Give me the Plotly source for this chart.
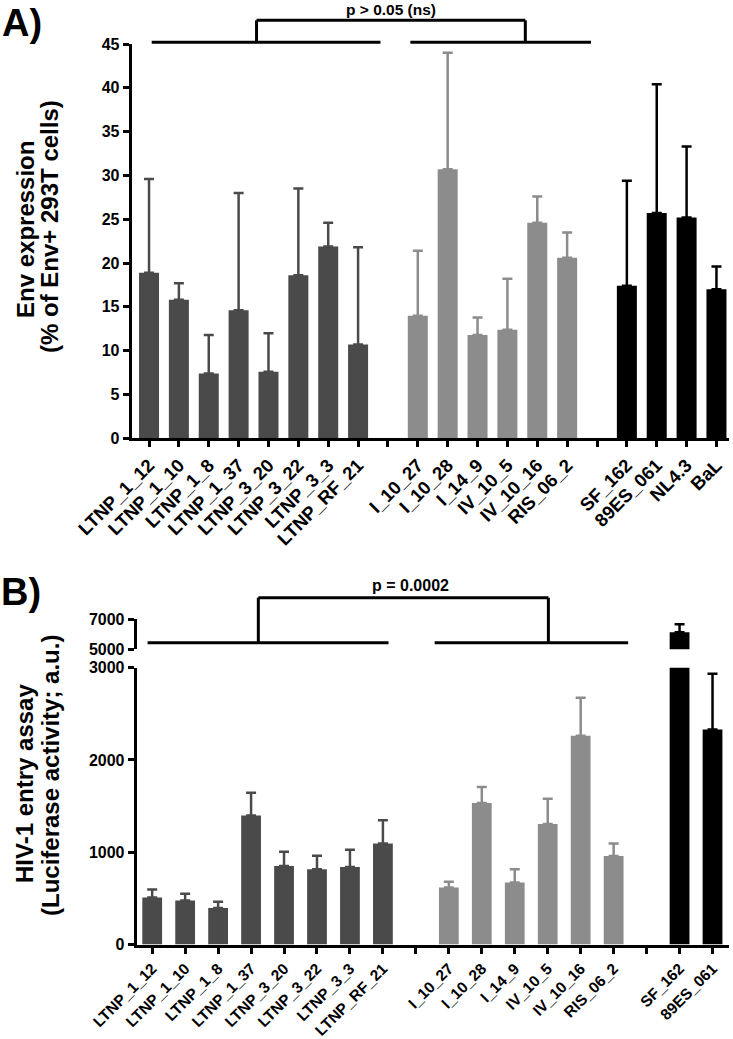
import plotly.graph_objects as go

W, H = 733, 1039

# ---------------- Panel A: Env expression ----------------
ltnp_a = ["LTNP_1_12", "LTNP_1_10", "LTNP_1_8", "LTNP_1_37", "LTNP_3_20", "LTNP_3_22", "LTNP_3_3", "LTNP_RF_21"]
ltnp_a_mean = [18.9, 15.8, 7.4, 14.6, 7.6, 18.6, 21.9, 10.7]
ltnp_a_upper = [29.6, 17.7, 11.8, 28.0, 12.0, 28.5, 24.6, 21.8]

lts_a = ["I_10_27", "I_10_28", "I_14_9", "IV_10_5", "IV_10_16", "RIS_06_2"]
lts_a_mean = [14.0, 30.7, 11.8, 12.4, 24.6, 20.6]
lts_a_upper = [21.4, 44.0, 13.8, 18.2, 27.6, 23.5]

ref_a = ["SF_162", "89ES_061", "NL4.3", "BaL"]
ref_a_mean = [17.4, 25.7, 25.2, 17.0]
ref_a_upper = [29.4, 40.4, 33.3, 19.6]

yticks_a = [0, 5, 10, 15, 20, 25, 30, 35, 40, 45]

# ---------------- Panel B: HIV-1 entry assay ----------------
ltnp_b = ["LTNP_1_12", "LTNP_1_10", "LTNP_1_8", "LTNP_1_37", "LTNP_3_20", "LTNP_3_22", "LTNP_3_3", "LTNP_RF_21"]
ltnp_b_mean = [510, 478, 395, 1397, 851, 815, 840, 1095]
ltnp_b_upper = [596, 549, 463, 1645, 1005, 962, 1027, 1346]

lts_b = ["I_10_27", "I_10_28", "I_14_9", "IV_10_5", "IV_10_16", "RIS_06_2"]
lts_b_mean = [618, 1533, 671, 1307, 2262, 959]
lts_b_upper = [679, 1706, 815, 1580, 2675, 1095]

ref_b = ["SF_162", "89ES_061"]
ref_b_mean = [6120, 2330]
ref_b_upper = [6650, 2934]

yticks_b_low = [0, 1000, 2000, 3000]
yticks_b_high = [5000, 7000]

DARK = "#4a4a4a"
LIGHT = "#8c8c8c"
BLACK = "#000000"
FONT = "Liberation Sans, Arial, sans-serif"

# category orders with blank gap slots
cats_a = ltnp_a + [" "] + lts_a + ["  "] + ref_a
cats_b = ltnp_b + [" "] + lts_b + ["  "] + ref_b

# layout geometry (paper fractions)
xa_dom = [131.7 / W, 729 / W]
ya_dom = [1 - 438.3 / H, 1 - 44 / H]
xa_rng = [-0.58, 19.42]
ya_rng = [0, 45]

xb_dom = [136.7 / W, 729 / W]
yb_low_dom = [1 - 944.5 / H, 1 - 667.7 / H]
yb_high_dom = [1 - 649.3 / H, 1 - 619 / H]
xb_rng = [-0.47, 17.5]
yb_low_rng = [0, 3000]
yb_high_rng = [5000, 7000]


def to_paper(v, dom, rng):
    return dom[0] + (v - rng[0]) / (rng[1] - rng[0]) * (dom[1] - dom[0])


fig = go.Figure()


def add_group(names, mean, upper, color, xaxis, yaxis, width):
    fig.add_trace(go.Bar(
        x=names, y=mean, marker=dict(color=color, line=dict(width=0)),
        width=width, xaxis=xaxis, yaxis=yaxis, showlegend=False,
        error_y=dict(type="data", symmetric=False,
                     array=[u - m for u, m in zip(upper, mean)],
                     arrayminus=[0] * len(mean),
                     color=color, thickness=2.5, width=5),
    ))


for names, m, u, c in [(ltnp_a, ltnp_a_mean, ltnp_a_upper, DARK),
                       (lts_a, lts_a_mean, lts_a_upper, LIGHT),
                       (ref_a, ref_a_mean, ref_a_upper, BLACK)]:
    add_group(names, m, u, c, "x", "y", 0.67)

for yax in ["y2", "y3"]:
    xax = "x2" if yax == "y2" else "x3"
    for names, m, u, c in [(ltnp_b, ltnp_b_mean, ltnp_b_upper, DARK),
                           (lts_b, lts_b_mean, lts_b_upper, LIGHT),
                           (ref_b, ref_b_mean, ref_b_upper, BLACK)]:
        add_group(names, m, u, c, xax, yax, 0.6)

tickfont = dict(family=FONT, size=16, color="black", weight="bold")
xtickfont_a = dict(family=FONT, size=18.5, color="black", weight="bold")
xtickfont_b = dict(family=FONT, size=15.5, color="black", weight="bold")

axis_common = dict(showline=True, linewidth=3, linecolor="black", ticks="outside",
                   ticklen=6, tickwidth=2.5, tickcolor="black", showgrid=False,
                   zeroline=False, automargin=False)

fig.update_layout(
    template="none",
    width=W, height=H, margin=dict(l=0, r=0, t=0, b=0, autoexpand=False),
    paper_bgcolor="white", plot_bgcolor="white", barmode="overlay",
    xaxis=dict(domain=xa_dom, anchor="y", type="category", categoryorder="array",
               categoryarray=cats_a, range=xa_rng, tickangle=-45, tickfont=xtickfont_a,
               **axis_common),
    yaxis=dict(domain=ya_dom, anchor="x", range=ya_rng, tickvals=yticks_a,
               tickfont=tickfont, **axis_common),
    xaxis2=dict(domain=xb_dom, anchor="y2", type="category", categoryorder="array",
                categoryarray=cats_b, range=xb_rng, tickangle=-45, tickfont=xtickfont_b,
                **axis_common),
    yaxis2=dict(domain=yb_low_dom, anchor="x2", range=yb_low_rng, tickvals=yticks_b_low,
                tickfont=tickfont, **axis_common),
    xaxis3=dict(domain=xb_dom, anchor="y3", type="category", categoryorder="array",
                categoryarray=cats_b, range=xb_rng, visible=False, matches="x2",
                automargin=False),
    yaxis3=dict(domain=yb_high_dom, anchor="x3", range=yb_high_rng, tickvals=yticks_b_high,
                tickfont=tickfont, **axis_common),
)

# significance brackets (defined in data units, converted to paper)
shapes = []


def bracket(xdom, xrng, ydom, yrng, l0, l1, r0, r1, v0, v1, ybase, ytop):
    def px(v):
        return to_paper(v, xdom, xrng)

    def py(v):
        return to_paper(v, ydom, yrng)
    line = dict(color="black", width=3)
    segs = [(l0, ybase, l1, ybase), (r0, ybase, r1, ybase),
            (v0, ybase, v0, ytop), (v1, ybase, v1, ytop), (v0, ytop, v1, ytop)]
    for a, b, c, d in segs:
        shapes.append(dict(type="line", xref="paper", yref="paper",
                           x0=px(a), y0=py(b), x1=px(c), y1=py(d), line=line))


bracket(xa_dom, xa_rng, ya_dom, ya_rng, 0.09, 7.75, 8.75, 14.8, 3.6, 12.6, 45.2, 47.7)
bracket(xb_dom, xb_rng, yb_high_dom, yb_high_rng, -0.14, 7.17, 8.57, 14.44, 3.22, 12.02, 5435, 8406)
fig.update_layout(shapes=shapes)


def note(text, x, y, size, angle=0):
    return dict(text=text, xref="paper", yref="paper", x=x, y=y, xanchor="center",
                yanchor="middle", textangle=angle, showarrow=False,
                font=dict(family=FONT, size=size, color="black", weight="bold"))


annotations = [
    note("p > 0.05 (ns)", to_paper(8.1, xa_dom, xa_rng), to_paper(48.9, ya_dom, ya_rng), 15.5),
    note("p = 0.0002", to_paper(7.85, xb_dom, xb_rng), to_paper(9244, yb_high_dom, yb_high_rng), 16),
    note("A)", 22 / W, 1 - 23 / H, 38),
    note("B)", 21 / W, 1 - 592 / H, 38),
    note("Env expression", 26 / W, 1 - 230 / H, 24, -90),
    note("(% of Env+ 293T cells)", 50 / W, 1 - 227 / H, 24, -90),
    note("HIV-1 entry assay", 24 / W, 1 - 784 / H, 24, -90),
    note("(Luciferase activity; a.u.)", 50 / W, 1 - 776 / H, 24, -90),
]
fig.update_layout(annotations=annotations)

fig.write_html("out.html", config={"displayModeBar": False},
               post_script="document.body.style.margin='0';document.body.style.padding='0';")
